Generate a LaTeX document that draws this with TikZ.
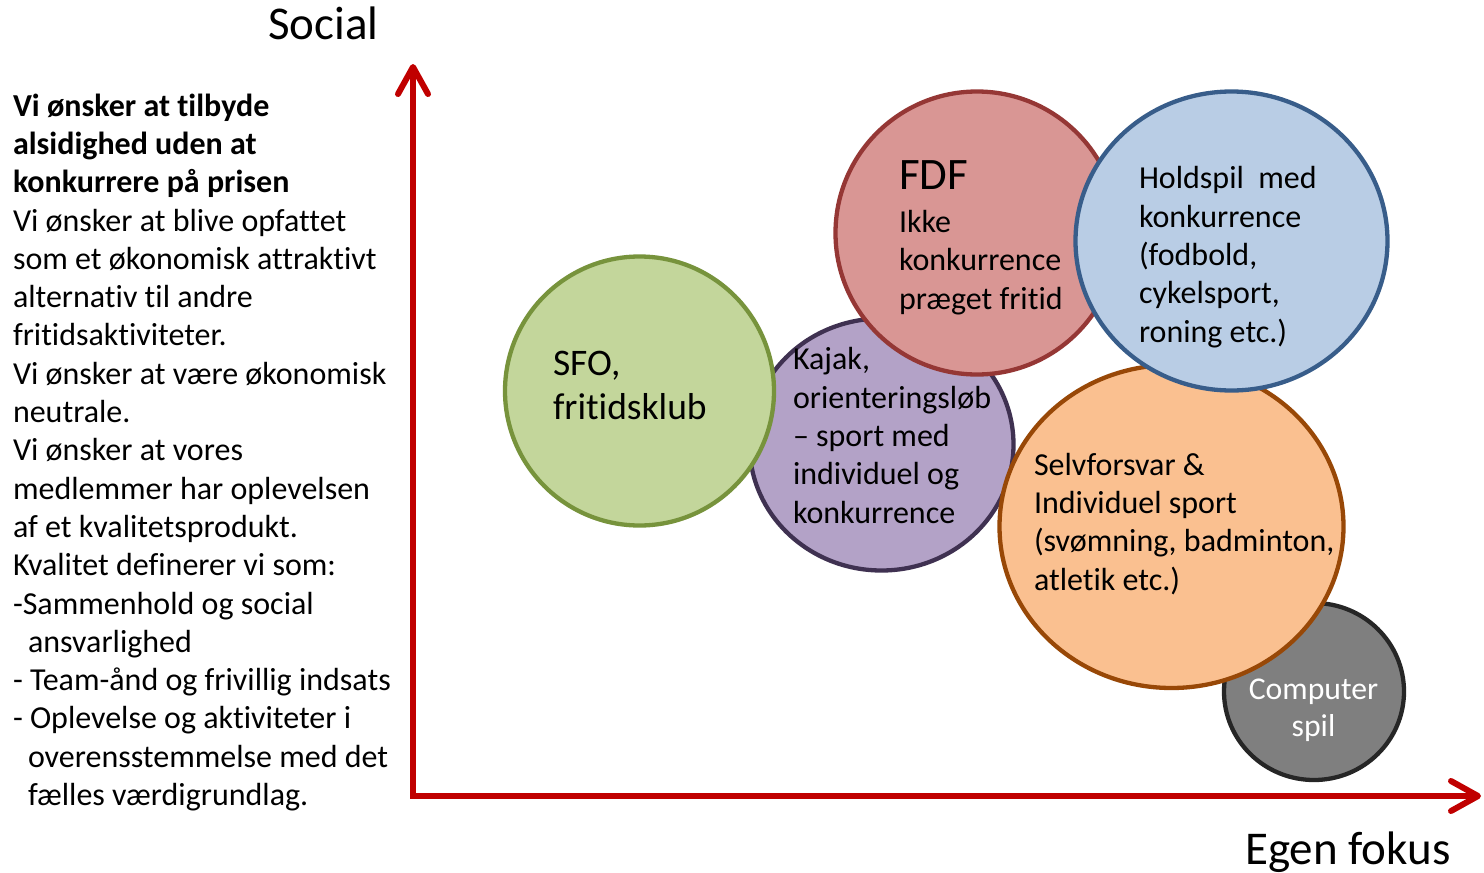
\documentclass[tikz,border=0pt]{standalone}
\usepackage{fontspec}
\setmainfont{Carlito}[Ligatures=NoCommon]
\usetikzlibrary{arrows.meta,shapes.geometric}
\definecolor{axisred}{HTML}{C00000}
\definecolor{gfill}{HTML}{C3D69B}\definecolor{gdraw}{HTML}{77933C}
\definecolor{pfill}{HTML}{B3A2C7}\definecolor{pdraw}{HTML}{3F3151}
\definecolor{rfill}{HTML}{D99694}\definecolor{rdraw}{HTML}{953735}
\definecolor{bfill}{HTML}{B9CDE5}\definecolor{bdraw}{HTML}{385D8A}
\definecolor{ofill}{HTML}{FAC090}\definecolor{odraw}{HTML}{984807}
\definecolor{kfill}{HTML}{7F7F7F}\definecolor{kdraw}{HTML}{262626}
\begin{document}
\begin{tikzpicture}[x=1pt,y=-1pt,
  blob/.style={ellipse,line width=4.3pt,inner sep=0pt,outer sep=0pt},
  txt/.style={inner sep=0pt,outer sep=0pt,anchor=base west,align=left,
    font=\fontsize{32}{38.3}\selectfont},
  axislabel/.style={inner sep=0pt,anchor=base west,font=\fontsize{47}{54}\selectfont},
  axis/.style={line width=6pt,draw=axisred,line join=miter},
  barb/.tip={Straight Barb[length=27pt,width=30pt,round]}]
\useasboundingbox (0,0) rectangle (1484,873);
% bubbles, back to front
\node[blob,fill=kfill,draw=kdraw,minimum width=180pt,minimum height=177pt] (comp) at (1314,691.5) {};
\node[blob,fill=pfill,draw=pdraw,minimum width=264pt,minimum height=252pt] (kajak) at (881.5,444.5) {};
\node[blob,fill=gfill,draw=gdraw,minimum width=269pt,minimum height=269pt] (sfo) at (639.5,391) {};
\node[blob,fill=rfill,draw=rdraw,minimum width=283pt,minimum height=283pt] (fdf) at (977,233) {};
\node[blob,fill=ofill,draw=odraw,minimum width=344pt,minimum height=323pt] (selv) at (1171.5,526.5) {};
\node[blob,fill=bfill,draw=bdraw,minimum width=312pt,minimum height=299pt] (hold) at (1231.5,241) {};
% bubble texts (base anchor = baseline of the last line)
\node[txt,font=\fontsize{37.5}{44}\selectfont] (sfot) at (553,419.3) {SFO,\\fritidsklub};
\node[txt,font=\fontsize{45}{50}\selectfont] (fdft) at (899,189) {FDF};
\node[txt] (fdfs) at (899,309) {Ikke\\konkurrence\\præget fritid};
\node[txt] (kajt) at (793,523) {Kajak,\\orienteringsløb\\– sport med\\individuel og\\konkurrence};
\node[txt] (holdt) at (1139,342) {Holdspil\ \ med\\konkurrence\\(fodbold,\\cykelsport,\\roning etc.)};
\node[txt] (selvt) at (1034,590) {Selvforsvar \&\\Individuel sport\\(svømning, badminton,\\atletik etc.)};
\node[txt,align=center,anchor=base,text=white,font=\fontsize{31.7}{37}\selectfont] (compt) at (1313.5,736.7) {Computer\\spil};
% axes
\coordinate (ytip) at (413,64);
\coordinate (origin) at (413,796);
\coordinate (xtip) at (1481,796);
\draw[axis,barb-barb] (ytip) -- (origin) -- (xtip);
\node[axislabel] (social) at (268,39.5) {Social};
\node[axislabel] (egen) at (1245,864) {Egen fokus};
% left text
\node[txt] (left) at (13,805.5) {\textbf{Vi ønsker at tilbyde}\\\textbf{alsidighed uden at}\\\textbf{konkurrere på prisen}\\
Vi ønsker at blive opfattet\\som et økonomisk attraktivt\\alternativ til andre\\fritidsaktiviteter.\\
Vi ønsker at være økonomisk\\neutrale.\\Vi ønsker at vores\\medlemmer har oplevelsen\\af et kvalitetsprodukt.\\
Kvalitet definerer vi som:\\-Sammenhold og social\\\hspace*{15pt}ansvarlighed\\- Team-ånd og frivillig indsats\\
- Oplevelse og aktiviteter i\\\hspace*{15pt}overensstemmelse med det\\\hspace*{15pt}fælles værdigrundlag.};
\end{tikzpicture}
\end{document}
